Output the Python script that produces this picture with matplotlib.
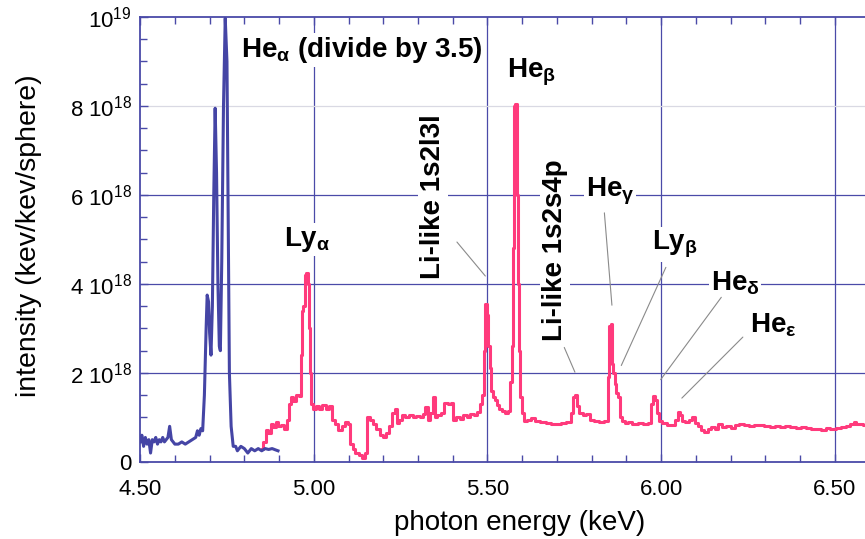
import matplotlib
matplotlib.use("Agg")
import matplotlib.pyplot as plt
import numpy as np

plt.rcParams['font.family'] = ['Liberation Sans', 'DejaVu Sans']
plt.rcParams['mathtext.default'] = 'regular'

# He-alpha region (already divided by 3.5), intensity in 1e18 kev/kev/sphere
blue_e = [4.500, 4.505, 4.510, 4.515, 4.520, 4.525, 4.530, 4.535, 4.540, 4.545,
          4.550, 4.555, 4.560, 4.565, 4.570, 4.575, 4.580, 4.585, 4.590, 4.595,
          4.600, 4.610, 4.620, 4.630, 4.640, 4.650, 4.660, 4.665, 4.670, 4.675,
          4.680, 4.685, 4.690, 4.693, 4.697, 4.700, 4.704, 4.708, 4.712, 4.716,
          4.720, 4.724, 4.728, 4.731, 4.735, 4.740, 4.745, 4.750, 4.754, 4.757,
          4.762, 4.768, 4.775, 4.780, 4.790, 4.800, 4.810, 4.820, 4.830, 4.840,
          4.850, 4.860, 4.870, 4.880, 4.890, 4.897]
blue_i = [0.45, 0.60, 0.35, 0.55, 0.40, 0.50, 0.20, 0.50, 0.45, 0.55,
          0.40, 0.50, 0.45, 0.55, 0.45, 0.50, 0.55, 0.80, 0.50, 0.45,
          0.40, 0.40, 0.45, 0.40, 0.45, 0.50, 0.55, 0.70, 0.60, 0.75,
          0.70, 1.50, 3.00, 3.75, 3.60, 2.90, 2.40, 3.50, 6.00, 7.95,
          6.50, 4.00, 2.60, 2.50, 4.50, 8.00, 9.97, 9.00, 5.00, 2.00,
          0.80, 0.35, 0.35, 0.25, 0.35, 0.30, 0.20, 0.30, 0.25, 0.30,
          0.25, 0.30, 0.28, 0.30, 0.27, 0.25]

# rest of the spectrum
pink_e = [4.850, 4.858, 4.865, 4.872, 4.880, 4.887, 4.893, 4.900, 4.910, 4.918,
          4.925, 4.930, 4.937, 4.945, 4.952, 4.960, 4.964, 4.968, 4.972, 4.976,
          4.980, 4.984, 4.987, 4.990, 4.994, 5.000, 5.010, 5.020, 5.030, 5.040,
          5.047, 5.055, 5.065, 5.075, 5.085, 5.095, 5.102, 5.108, 5.115, 5.125,
          5.135, 5.145, 5.150, 5.157, 5.165, 5.175, 5.185, 5.195, 5.205, 5.212,
          5.222, 5.230, 5.235, 5.242, 5.250, 5.258, 5.270, 5.280, 5.290, 5.300,
          5.310, 5.318, 5.325, 5.331, 5.340, 5.346, 5.352, 5.360, 5.372, 5.380,
          5.390, 5.398, 5.403, 5.415, 5.425, 5.435, 5.445, 5.455, 5.465, 5.475,
          5.483, 5.488, 5.492, 5.496, 5.500, 5.504, 5.508, 5.513, 5.518, 5.524,
          5.530, 5.536, 5.545, 5.555, 5.562, 5.568, 5.572, 5.575, 5.578, 5.582,
          5.586, 5.589, 5.592, 5.597, 5.603, 5.610, 5.620, 5.630, 5.645, 5.660,
          5.675, 5.690, 5.705, 5.720, 5.735, 5.745, 5.750, 5.755, 5.760, 5.770,
          5.780, 5.790, 5.800, 5.815, 5.830, 5.843, 5.849, 5.853, 5.857, 5.860,
          5.864, 5.868, 5.873, 5.878, 5.884, 5.890, 5.900, 5.910, 5.925, 5.940,
          5.955, 5.968, 5.975, 5.980, 5.985, 5.990, 5.997, 6.010, 6.025, 6.035,
          6.045, 6.052, 6.058, 6.064, 6.075, 6.085, 6.093, 6.100, 6.110, 6.120,
          6.128, 6.140, 6.150, 6.160, 6.170, 6.180, 6.195, 6.208, 6.220, 6.230,
          6.245, 6.260, 6.275, 6.290, 6.305, 6.320, 6.335, 6.350, 6.365, 6.380,
          6.395, 6.410, 6.425, 6.440, 6.455, 6.467, 6.480, 6.495, 6.510, 6.525,
          6.540, 6.550, 6.558, 6.565, 6.575, 6.587]
pink_i = [0.30, 0.45, 0.72, 0.65, 0.85, 0.78, 0.90, 0.80, 0.82, 0.75,
          0.95, 1.30, 1.45, 1.38, 1.50, 1.48, 2.40, 3.40, 3.50, 4.20,
          4.25, 4.00, 3.00, 2.00, 1.30, 1.20, 1.25, 1.20, 1.28, 1.18,
          1.25, 0.95, 0.85, 0.72, 0.80, 0.90, 0.85, 0.40, 0.28, 0.20,
          0.15, 0.08, 0.20, 1.02, 0.95, 0.85, 0.75, 0.60, 0.55, 0.65,
          0.80, 1.10, 1.18, 0.88, 0.95, 1.06, 1.00, 1.05, 1.00, 1.03,
          1.00, 1.08, 1.24, 0.95, 1.10, 1.45, 1.00, 1.05, 1.10, 1.32,
          1.30, 1.32, 0.95, 1.00, 0.97, 1.05, 1.02, 1.08, 1.05, 1.12,
          1.30, 1.50, 2.50, 3.55, 3.30, 2.60, 2.10, 1.60, 1.45, 1.40,
          1.28, 1.18, 1.15, 1.09, 1.15, 1.80, 2.60, 4.80, 8.00, 8.05,
          6.00, 4.00, 2.50, 1.45, 1.10, 0.92, 0.95, 0.98, 0.92, 0.90,
          0.88, 0.85, 0.86, 0.88, 0.90, 1.10, 1.45, 1.50, 1.25, 1.10,
          1.05, 1.08, 0.95, 0.93, 0.90, 0.92, 1.90, 3.05, 3.10, 2.20,
          2.00, 1.75, 1.55, 1.45, 1.00, 0.92, 0.88, 0.90, 0.85, 0.88,
          0.86, 0.88, 1.30, 1.48, 1.40, 1.10, 0.92, 0.88, 0.84, 0.82,
          0.95, 1.13, 1.05, 0.92, 0.90, 0.95, 1.00, 0.87, 0.80, 0.72,
          0.68, 0.75, 0.78, 0.75, 0.85, 0.78, 0.80, 0.76, 0.82, 0.85,
          0.82, 0.80, 0.83, 0.82, 0.80, 0.78, 0.80, 0.78, 0.80, 0.79,
          0.77, 0.78, 0.76, 0.75, 0.73, 0.72, 0.76, 0.75, 0.77, 0.78,
          0.80, 0.85, 0.90, 0.85, 0.86, 0.83]

x_ticks = [4.5, 5.0, 5.5, 6.0, 6.5]
x_labels = ['4.50', '5.00', '5.50', '6.00', '6.50']
y_ticks = [0, 2, 4, 6, 8, 10]
y_labels = ['0', r'2 10$^{18}$', r'4 10$^{18}$', r'6 10$^{18}$', r'8 10$^{18}$', r'10$^{19}$']

# label text, text position, leader line (start, end) or None, rotation
labels = [
    (r'He$_{α}$ (divide by 3.5)', (5.139, 9.26), None, 0),
    (r'He$_{β}$', (5.628, 8.76), None, 0),
    (r'Ly$_{α}$', (4.981, 4.99), None, 0),
    ('Li-like 1s2l3l', (5.343, 5.96), ((5.407, 4.99), (5.499, 4.13)), 90),
    ('Li-like 1s2s4p', (5.695, 4.76), ((5.718, 2.63), (5.755, 1.96)), 90),
    (r'He$_{γ}$', (5.853, 6.07), ((5.836, 5.66), (5.859, 3.46)), 0),
    (r'Ly$_{β}$', (6.040, 4.88), ((6.017, 4.43), (5.882, 2.11)), 0),
    (r'He$_{δ}$', (6.213, 4.02), ((6.178, 3.75), (5.994, 1.80)), 0),
    (r'He$_{ε}$', (6.322, 3.08), ((6.241, 2.85), (6.054, 1.39)), 0),
]

axis_blue = '#4a4aa8'

fig = plt.figure(figsize=(8.65, 5.39), dpi=100)
ax = fig.add_axes([0.162, 0.143, 0.838, 0.8255])

ax.plot(pink_e, pink_i, color='#ff3a7c', lw=2.2, zorder=4, drawstyle='steps-mid')
ax.plot(blue_e, blue_i, color='#4545a5', lw=2.2, zorder=5)

ax.set_xlim(4.5, 6.587)
ax.set_ylim(0, 10)

# grid
for xv in x_ticks[1:]:
    ax.axvline(xv, color=axis_blue, lw=0.9, zorder=1)
for yv in y_ticks[1:-1]:
    c = '#d9d9e3' if yv == 8 else axis_blue
    ax.axhline(yv, color=c, lw=0.9, zorder=1)

ax.set_xticks(x_ticks)
ax.set_xticklabels(x_labels)
ax.set_xticks(np.arange(4.5, 6.59, 0.1), minor=True)
ax.set_yticks(y_ticks)
ax.set_yticklabels(y_labels)
ax.set_yticks(np.arange(0, 10.01, 0.5), minor=True)
ax.tick_params(which='both', direction='in', color=axis_blue, top=True,
               labelsize=16, labelcolor='black')
ax.tick_params(which='major', length=6, width=1)
ax.tick_params(which='minor', length=5, width=1)
ax.tick_params(axis='x', pad=12)
ax.tick_params(axis='y', pad=6)

for side in ['left', 'bottom', 'top']:
    ax.spines[side].set_color(axis_blue)
    ax.spines[side].set_linewidth(1.3)
ax.spines['right'].set_visible(False)

ax.set_xlabel('photon energy (keV)', fontsize=20)
ax.set_ylabel('intensity (kev/kev/sphere)', fontsize=20.5)
ax.xaxis.set_label_coords(0.524, -0.108)
ax.yaxis.set_label_coords(-0.135, 0.508)

for txt, pos, leader, rot in labels:
    ax.text(pos[0], pos[1], txt, fontsize=20, fontweight='bold', rotation=rot,
            ha='center', va='center', zorder=3,
            bbox=dict(facecolor='white', edgecolor='none', pad=1.5))
    if leader is not None:
        ax.annotate('', xy=leader[1], xytext=leader[0],
                    arrowprops=dict(arrowstyle='-', color='#8a8a8a', lw=0.8),
                    zorder=3)

fig.savefig('out.png', dpi=100)
